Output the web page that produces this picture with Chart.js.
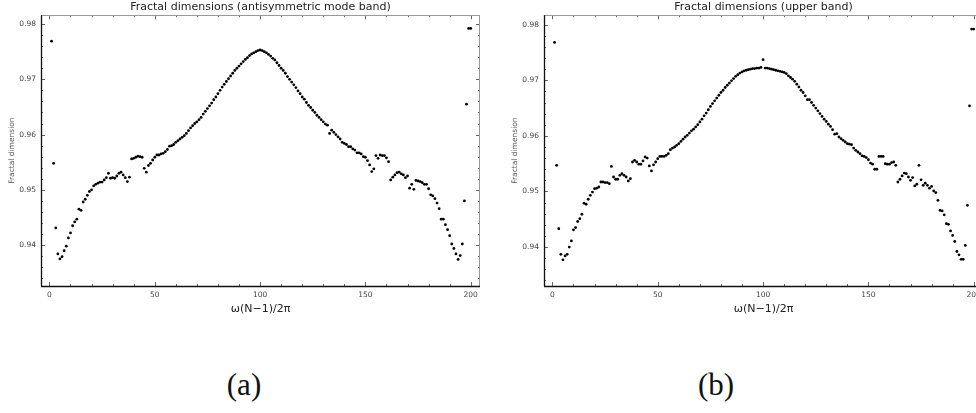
<!DOCTYPE html>
<html>
<head>
<meta charset="utf-8">
<script src="https://cdn.jsdelivr.net/npm/chart.js@4"></script>
<style>
  body { margin: 0; width: 976px; height: 413px; overflow: hidden; background: #fff; position: relative; }
  canvas { position: absolute; top: 0; }
  #left { left: 0; }
  #right { left: 503px; }
  .panel-label { position: absolute; width: 100px; text-align: center; font-family: "Liberation Serif", "DejaVu Serif", serif; font-size: 31px; line-height: 36px; color: #111; }
</style>
</head>
<body>
<canvas id="left" width="520" height="320"></canvas>
<canvas id="right" width="520" height="320"></canvas>
<div class="panel-label" style="left:194px; top:367px;">(a)</div>
<div class="panel-label" style="left:666px; top:367px;">(b)</div>
<script>
// mode index omega(N-1)/2pi, 1..200
const modeIndex = Array.from({ length: 200 }, (_, i) => i + 1);

// fractal dimension, antisymmetric mode band (a)
const antisymBand = [
  0.9769, 0.9548, 0.9431, 0.9384, 0.9375, 0.9379, 0.9390, 0.9398, 0.9413, 0.9422,
  0.9435, 0.9442, 0.9447, 0.9465, 0.9463, 0.9478, 0.9483, 0.9490, 0.9497, 0.9500,
  0.9507, 0.9510, 0.9512, 0.9514, 0.9514, 0.9518, 0.9522, 0.9530, 0.9521, 0.9522,
  0.9521, 0.9525, 0.9530, 0.9532, 0.9527, 0.9522, 0.9515, 0.9523, 0.9556, 0.9557,
  0.9559, 0.9561, 0.9560, 0.9559, 0.9539, 0.9532, 0.9544, 0.9548, 0.9554, 0.9559,
  0.9563, 0.9563, 0.9565, 0.9566, 0.9569, 0.9573, 0.9579, 0.9580, 0.9582, 0.9586,
  0.9589, 0.9592, 0.9595, 0.9598, 0.9602, 0.9607, 0.9612, 0.9616, 0.9620, 0.9623,
  0.9627, 0.9631, 0.9637, 0.9642, 0.9647, 0.9652, 0.9657, 0.9663, 0.9668, 0.9674,
  0.9680, 0.9686, 0.9691, 0.9696, 0.9701, 0.9706, 0.9711, 0.9716, 0.9720, 0.9724,
  0.9728, 0.9732, 0.9736, 0.9739, 0.9743, 0.9746, 0.9748, 0.9750, 0.9752, 0.9753,
  0.9752, 0.9750, 0.9748, 0.9745, 0.9742, 0.9738, 0.9735, 0.9730, 0.9725, 0.9720,
  0.9716, 0.9711, 0.9705, 0.9700, 0.9695, 0.9690, 0.9685, 0.9679, 0.9674, 0.9668,
  0.9664, 0.9658, 0.9653, 0.9649, 0.9644, 0.9640, 0.9635, 0.9631, 0.9627, 0.9623,
  0.9619, 0.9617, 0.9602, 0.9608, 0.9604, 0.9600, 0.9596, 0.9592, 0.9586, 0.9584,
  0.9582, 0.9578, 0.9578, 0.9574, 0.9572, 0.9567, 0.9567, 0.9565, 0.9560, 0.9559,
  0.9553, 0.9545, 0.9533, 0.9538, 0.9562, 0.9557, 0.9563, 0.9562, 0.9562, 0.9558,
  0.9551, 0.9518, 0.9523, 0.9527, 0.9531, 0.9532, 0.9529, 0.9527, 0.9522, 0.9525,
  0.9503, 0.9510, 0.9501, 0.9517, 0.9516, 0.9515, 0.9513, 0.9510, 0.9510, 0.9502,
  0.9491, 0.9489, 0.9484, 0.9476, 0.9466, 0.9447, 0.9447, 0.9437, 0.9428, 0.9417,
  0.9402, 0.9394, 0.9384, 0.9374, 0.9381, 0.9402, 0.9480, 0.9655, 0.9792, 0.9792
];

// fractal dimension, upper band (b)
const upperBand = [
  0.9768, 0.9547, 0.9433, 0.9387, 0.9377, 0.9384, 0.9387, 0.9400, 0.9411, 0.9431,
  0.9435, 0.9446, 0.9451, 0.9459, 0.9479, 0.9477, 0.9486, 0.9493, 0.9499, 0.9505,
  0.9506, 0.9508, 0.9517, 0.9517, 0.9516, 0.9516, 0.9514, 0.9545, 0.9526, 0.9522,
  0.9522, 0.9529, 0.9532, 0.9529, 0.9526, 0.9519, 0.9523, 0.9553, 0.9556, 0.9553,
  0.9549, 0.9549, 0.9555, 0.9562, 0.9560, 0.9546, 0.9537, 0.9548, 0.9553, 0.9559,
  0.9563, 0.9563, 0.9563, 0.9565, 0.9568, 0.9575, 0.9578, 0.9580, 0.9583, 0.9586,
  0.9590, 0.9594, 0.9598, 0.9601, 0.9605, 0.9609, 0.9612, 0.9616, 0.9620, 0.9625,
  0.9630, 0.9636, 0.9641, 0.9647, 0.9653, 0.9658, 0.9663, 0.9668, 0.9673, 0.9678,
  0.9682, 0.9687, 0.9691, 0.9695, 0.9699, 0.9703, 0.9707, 0.9710, 0.9713, 0.9715,
  0.9717, 0.9718, 0.9719, 0.9720, 0.9721, 0.9721, 0.9722, 0.9722, 0.9723, 0.9737,
  0.9722, 0.9722, 0.9721, 0.9720, 0.9719, 0.9718, 0.9717, 0.9716, 0.9715, 0.9714,
  0.9712, 0.9708, 0.9705, 0.9702, 0.9698, 0.9693, 0.9688, 0.9682, 0.9678, 0.9672,
  0.9665, 0.9665, 0.9660, 0.9655, 0.9650, 0.9645, 0.9640, 0.9635, 0.9630, 0.9626,
  0.9621, 0.9617, 0.9611, 0.9603, 0.9604, 0.9598, 0.9595, 0.9592, 0.9589, 0.9586,
  0.9585, 0.9584, 0.9578, 0.9574, 0.9571, 0.9568, 0.9564, 0.9563, 0.9561, 0.9557,
  0.9551, 0.9549, 0.9540, 0.9540, 0.9563, 0.9563, 0.9563, 0.9550, 0.9549, 0.9549,
  0.9552, 0.9553, 0.9547, 0.9517, 0.9522, 0.9528, 0.9533, 0.9532, 0.9526, 0.9520,
  0.9525, 0.9510, 0.9513, 0.9547, 0.9521, 0.9511, 0.9515, 0.9511, 0.9506, 0.9509,
  0.9501, 0.9498, 0.9484, 0.9466, 0.9465, 0.9458, 0.9442, 0.9441, 0.9429, 0.9421,
  0.9410, 0.9392, 0.9386, 0.9378, 0.9378, 0.9403, 0.9475, 0.9654, 0.9792, 0.9792
];

const titles = ["Fractal dimensions (antisymmetric mode band)", "Fractal dimensions (upper band)"];
const xTickValues = [0, 50, 100, 150, 200];
const yTickValues = [0.94, 0.95, 0.96, 0.97, 0.98];
const xRange = [-4, 204.4];
const yRangeA = [0.9326, 0.9816];
const yRangeB = [0.9330, 0.9817];

const sans = "DejaVu Sans";

// Mathematica-like frame with inward ticks on all four sides
const frameTicks = {
  id: "frameTicks",
  afterDatasetsDraw(chart) {
    const { ctx, chartArea: a, scales } = chart;
    const x = scales.x, y = scales.y;
    ctx.save();
    ctx.lineWidth = 1;
    ctx.strokeStyle = "#666";
    ctx.beginPath();
    for (let v = 0; v <= 200; v += 10) {
      const px = Math.round(x.getPixelForValue(v)) + 0.5;
      const len = v % 50 === 0 ? 4 : 2;
      ctx.moveTo(px, a.bottom); ctx.lineTo(px, a.bottom - len);
      ctx.moveTo(px, a.top); ctx.lineTo(px, a.top + len);
    }
    for (let k = 934; k <= 980; k += 2) {
      const py = Math.round(y.getPixelForValue(k / 1000)) + 0.5;
      const len = k % 10 === 0 ? 4 : 2;
      ctx.moveTo(a.left, py); ctx.lineTo(a.left + len, py);
      ctx.moveTo(a.right, py); ctx.lineTo(a.right - len, py);
    }
    ctx.stroke();

    ctx.strokeStyle = "#999";
    ctx.beginPath();
    ctx.moveTo(a.left, Math.round(a.top) + 0.5); ctx.lineTo(a.right, Math.round(a.top) + 0.5);
    ctx.moveTo(Math.round(a.right) - 0.5, a.top); ctx.lineTo(Math.round(a.right) - 0.5, a.bottom);
    ctx.stroke();

    ctx.strokeStyle = "#111";
    ctx.lineWidth = 1.3;
    ctx.beginPath();
    ctx.moveTo(Math.round(a.left) + 0.5, a.top); ctx.lineTo(Math.round(a.left) + 0.5, a.bottom);
    ctx.moveTo(a.left, Math.round(a.bottom) + 0.5); ctx.lineTo(a.right, Math.round(a.bottom) + 0.5);
    ctx.stroke();
    ctx.restore();
  }
};

function makeChart(id, title, values, yRange) {
  const points = modeIndex.map((m, i) => ({ x: m, y: values[i] }));
  return new Chart(document.getElementById(id), {
    type: "scatter",
    data: {
      datasets: [{
        data: points,
        pointRadius: 1.4,
        pointBackgroundColor: "#000",
        pointBorderWidth: 0,
        showLine: false
      }]
    },
    options: {
      responsive: false,
      animation: false,
      layout: { padding: { left: 0, right: 40, top: 0, bottom: 0 } },
      plugins: {
        legend: { display: false },
        tooltip: { enabled: false },
        title: {
          display: true,
          text: title,
          fullSize: false,
          color: "#222",
          font: { family: sans, size: 11, weight: "normal" },
          padding: { top: 1, bottom: 1 }
        }
      },
      scales: {
        x: {
          type: "linear",
          min: xRange[0],
          max: xRange[1],
          grid: { display: false },
          border: { display: false },
          afterBuildTicks: (scale) => { scale.ticks = xTickValues.map((v) => ({ value: v })); },
          ticks: {
            autoSkip: false,
            maxRotation: 0,
            padding: -3,
            color: "#444",
            font: { family: sans, size: 7.5 },
            callback: (v) => String(v)
          },
          title: {
            display: true,
            text: "ω(N−1)/2π",
            color: "#222",
            font: { family: sans, size: 11 },
            padding: { top: 0, bottom: 4 }
          },
          afterFit: (scale) => { scale.height = 34; }
        },
        y: {
          min: yRange[0],
          max: yRange[1],
          grid: { display: false },
          border: { display: false },
          afterBuildTicks: (scale) => { scale.ticks = yTickValues.map((v) => ({ value: v })); },
          ticks: {
            autoSkip: false,
            padding: -3,
            color: "#444",
            font: { family: sans, size: 7.5 },
            callback: (v) => v.toFixed(2)
          },
          title: {
            display: true,
            text: "Fractal dimension",
            color: "#555",
            font: { family: sans, size: 7.5 },
            padding: { top: 8, bottom: 0 }
          },
          afterFit: (scale) => { scale.width = 41; }
        }
      }
    },
    plugins: [frameTicks]
  });
}

window.onload = function () {
  makeChart("left", titles[0], antisymBand, yRangeA);
  makeChart("right", titles[1], upperBand, yRangeB);
};
</script>
</body>
</html>
